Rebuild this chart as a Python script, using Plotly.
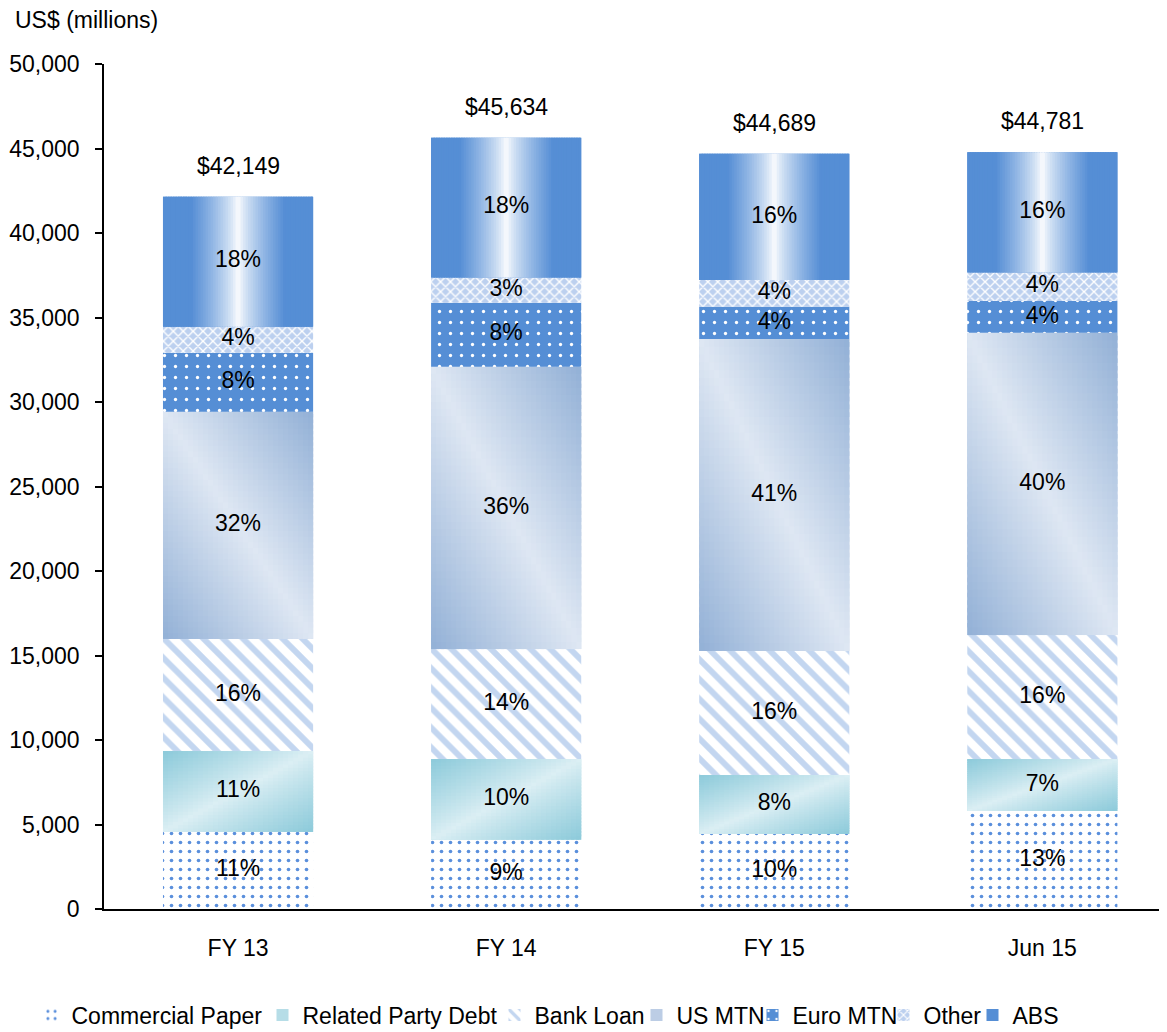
import numpy as np
import plotly.graph_objects as go

# ---------------- data ----------------
categories = ["FY 13", "FY 14", "FY 15", "Jun 15"]
series_names = ["Commercial Paper", "Related Party Debt", "Bank Loan", "US MTN", "Euro MTN", "Other", "ABS"]

commercial_paper = [4560, 4100, 4440, 5800]
related_party_debt = [4790, 4780, 3490, 3080]
bank_loan = [6630, 6500, 7340, 7330]
us_mtn = [13450, 16710, 18460, 17890]
euro_mtn = [3490, 3790, 1910, 1880]
other = [1540, 1480, 1580, 1690]
abs_ = [7689, 8274, 7469, 7111]

pct_commercial_paper = ["11%", "9%", "10%", "13%"]
pct_related_party_debt = ["11%", "10%", "8%", "7%"]
pct_bank_loan = ["16%", "14%", "16%", "16%"]
pct_us_mtn = ["32%", "36%", "41%", "40%"]
pct_euro_mtn = ["8%", "8%", "4%", "4%"]
pct_other = ["4%", "3%", "4%", "4%"]
pct_abs = ["18%", "18%", "16%", "16%"]

totals = [42149, 45634, 44689, 44781]
total_labels = ["$42,149", "$45,634", "$44,689", "$44,781"]

y_ticks = [0, 5000, 10000, 15000, 20000, 25000, 30000, 35000, 40000, 45000, 50000]

# ---------------- helpers ----------------
FONT = "Liberation Sans, Arial, sans-serif"
FIG_W, FIG_H = 1159, 1024
ML, MR, MT, MB = 96, 4, 56, 123
PLOT_W = FIG_W - ML - MR
PLOT_H = FIG_H - MT - MB

# text start (px) of each legend entry, laid out as in the reference
legend_text_x = [64, 295, 527, 669, 785, 916, 1005]

xs = np.arange(len(categories))
W = 0.56

series_vals = [commercial_paper, related_party_debt, bank_loan, us_mtn, euro_mtn, other, abs_]
series_pcts = [pct_commercial_paper, pct_related_party_debt, pct_bank_loan, pct_us_mtn,
               pct_euro_mtn, pct_other, pct_abs]
vals = np.array(series_vals, dtype=float)
bases = np.vstack([np.zeros(len(categories)), np.cumsum(vals, axis=0)[:-1]])


def mix(c1, c2, t):
    t = min(max(t, 0.0), 1.0)
    return "rgb(%d,%d,%d)" % tuple(round(a + (b - a) * t) for a, b in zip(c1, c2))


def grad_abs(u, v):
    d = abs(u - 0.5) * 2
    if d > 0.62:
        return mix((255, 255, 255), (85, 142, 213), 1)
    t = (d / 0.62) ** 0.75
    return mix((255, 255, 255), (85, 142, 213), t)


def grad_usmtn(u, v):
    s = abs(u + v - 1)
    return mix((222, 231, 243), (146, 176, 214), s)


def grad_rpd(u, v):
    s = abs(u - v)
    return mix((220, 239, 244), (140, 202, 218), s ** 0.9)


def gradient_trace(idx, fn, K, R):
    gx, gw, gb, gy, gc = [], [], [], [], []
    sw = W / K
    for c in range(len(categories)):
        v = vals[idx][c]
        b0 = bases[idx][c]
        sh = v / R
        for i in range(K):
            wi = sw * (1.6 if i < K - 1 else 1.0)
            left = xs[c] - W / 2 + i * sw
            for j in range(R):
                hj = sh * (1.6 if j < R - 1 else 1.0)
                u = (i + 0.5) / K
                w = (j + 0.5) / R
                gx.append(left + wi / 2)
                gw.append(wi)
                gb.append(b0 + j * sh)
                gy.append(hj)
                gc.append(fn(u, w))
    return go.Bar(x=gx, y=gy, base=gb, width=gw, marker=dict(color=gc, line=dict(width=0)),
                  showlegend=False, hoverinfo="skip")


fig = go.Figure()

styles = [
    dict(color="white", pattern=dict(shape=".", fgcolor="#5a8fdc", bgcolor="white", size=9,
                                     solidity=0.13, fillmode="replace")),
    dict(color="#b6dde7"),
    dict(color="white", pattern=dict(shape="\\", fgcolor="#c3d6f0", bgcolor="white", size=14,
                                     solidity=0.42, fillmode="replace")),
    dict(color="#bccde5"),
    dict(color="#558ed5", pattern=dict(shape=".", fgcolor="white", bgcolor="#558ed5", size=11,
                                       solidity=0.07, fillmode="replace")),
    dict(color="#c6d8f0", pattern=dict(shape="x", fgcolor="white", bgcolor="#bcd0ef", size=7,
                                       solidity=0.35, fillmode="replace")),
    dict(color="#558ed5"),
]

gradients = {1: (grad_rpd, 30, 24), 3: (grad_usmtn, 30, 40), 6: (grad_abs, 60, 1)}

legend_layouts = {}
for k, name in enumerate(series_names):
    m = dict(styles[k])
    m["line"] = dict(width=0)
    lg = "legend" if k == 0 else "legend%d" % (k + 1)
    fig.add_trace(go.Bar(x=xs, y=vals[k], base=bases[k], width=W, name=name, marker=m,
                         hoverinfo="skip", legend=lg))
    legend_layouts[lg] = dict(
        orientation="h", xref="container", yref="container",
        x=(legend_text_x[k] - 40.5) / FIG_W, y=17 / FIG_H,
        xanchor="left", yanchor="middle", bgcolor="rgba(0,0,0,0)",
        font=dict(family=FONT, size=23, color="black"), itemwidth=30)
    if k in gradients:
        fn, K, R = gradients[k]
        fig.add_trace(gradient_trace(k, fn, K, R))

# percentage labels
lx, ly, lt = [], [], []
for k in range(len(series_names)):
    for c in range(len(categories)):
        lx.append(xs[c])
        ly.append(bases[k][c] + vals[k][c] / 2)
        lt.append(series_pcts[k][c])
fig.add_trace(go.Scatter(x=lx, y=ly, text=lt, mode="text", showlegend=False, hoverinfo="skip",
                         textfont=dict(family=FONT, size=23, color="black")))

# total labels
for c in range(len(categories)):
    fig.add_annotation(x=xs[c], y=totals[c], text=total_labels[c], showarrow=False,
                       yanchor="bottom", yshift=16, font=dict(family=FONT, size=23, color="black"))

fig.add_annotation(xref="paper", yref="paper", x=(5 - ML) / PLOT_W, y=1 + (MT - 12) / PLOT_H,
                   xanchor="left", yanchor="middle", text="US$ (millions)", showarrow=False,
                   font=dict(family=FONT, size=23, color="black"))

fig.update_layout(
    width=FIG_W, height=FIG_H,
    margin=dict(l=ML, r=MR, t=MT, b=MB, autoexpand=False),
    barmode="overlay",
    plot_bgcolor="white", paper_bgcolor="white",
    font=dict(family=FONT, size=22, color="black"),
    showlegend=True,
    xaxis=dict(range=[-0.5, 3.45], tickvals=list(xs), ticktext=categories, showline=True,
               linecolor="black", linewidth=1.5, ticks="", showgrid=False, zeroline=False,
               automargin=False,
               ticklabelstandoff=18, tickfont=dict(family=FONT, size=23, color="black")),
    yaxis=dict(range=[0, 50000], tickvals=y_ticks, tickformat=",d", showline=True,
               linecolor="black", linewidth=1.5, ticks="outside", ticklen=7, tickcolor="black",
               tickwidth=1.5, showgrid=False, zeroline=False, ticklabelstandoff=11,
               automargin=False,
               tickfont=dict(family=FONT, size=23, color="black")),
)
fig.update_layout(**legend_layouts)

fig.write_html("out.html")
